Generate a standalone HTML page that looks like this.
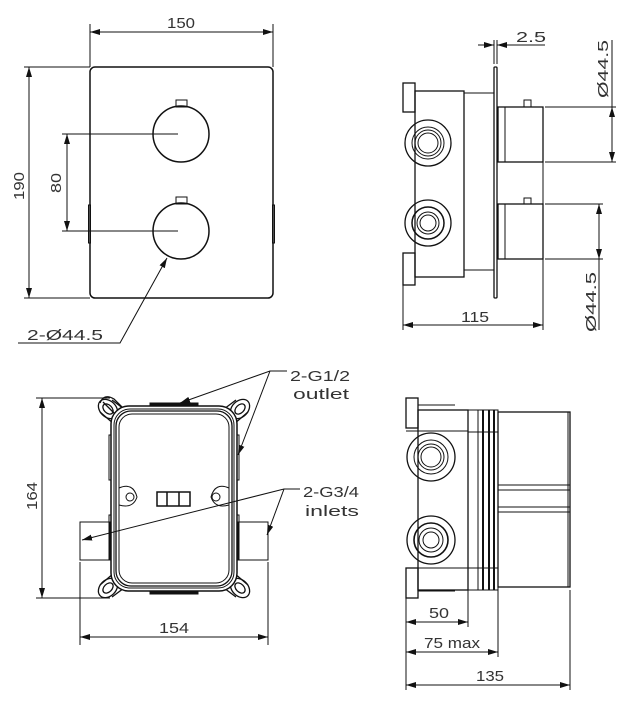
<!DOCTYPE html>
<html><head><meta charset="utf-8"><style>
html,body{margin:0;padding:0;background:#fff;}
svg{display:block}
text{font-family:"Liberation Sans",sans-serif;font-size:15px;fill:#333;}
</style></head><body>
<svg width="630" height="705" viewBox="0 0 630 705" xmlns="http://www.w3.org/2000/svg">
<defs>
<marker id="a" viewBox="0 0 10 6" refX="10" refY="3" markerWidth="10" markerHeight="6" orient="auto-start-reverse" markerUnits="userSpaceOnUse"><path d="M0,0 L10,3 L0,6 z" fill="#111"/></marker>
</defs>
<g fill="none" stroke="#111" stroke-width="1">
<!-- TOP LEFT front view -->
<rect x="90" y="67" width="183" height="231" rx="5" stroke-width="1.5"/>
<line x1="90" y1="24" x2="90" y2="67"/><line x1="273" y1="24" x2="273" y2="67"/>
<line x1="90" y1="32" x2="273" y2="32" marker-start="url(#a)" marker-end="url(#a)"/>
<line x1="24" y1="67" x2="90" y2="67"/><line x1="24" y1="298" x2="90" y2="298"/>
<line x1="29" y1="67" x2="29" y2="298" marker-start="url(#a)" marker-end="url(#a)"/>
<circle cx="181" cy="134" r="28" stroke-width="1.5"/>
<circle cx="181" cy="231" r="28" stroke-width="1.5"/>
<rect x="176" y="100" width="11" height="7"/>
<rect x="176" y="197" width="11" height="7"/>
<line x1="62" y1="134" x2="178" y2="134"/><line x1="62" y1="231" x2="178" y2="231"/>
<line x1="67" y1="134" x2="67" y2="231" marker-start="url(#a)" marker-end="url(#a)"/>
<rect x="88.5" y="205" width="2" height="38"/>
<rect x="272.5" y="205" width="2" height="38"/>
<path d="M18,343 L120,343 L167,258" marker-end="url(#a)"/>
<!-- TOP RIGHT side view -->
<rect x="494" y="67" width="3" height="231" rx="1" stroke-width="1.3"/>
<rect x="415" y="91" width="49" height="186" stroke-width="1.3"/>
<rect x="403" y="83" width="12" height="29" stroke-width="1.3"/>
<rect x="403" y="253" width="12" height="32" stroke-width="1.3"/>
<line x1="415" y1="91" x2="450" y2="91"/><line x1="415" y1="277" x2="450" y2="277"/>
<rect x="464" y="93" width="30" height="177"/>
<rect x="498" y="107" width="45" height="55" stroke-width="1.3"/>
<line x1="505" y1="107" x2="505" y2="162"/>
<rect x="524" y="100" width="7" height="7"/>
<rect x="498" y="204" width="45" height="55" stroke-width="1.3"/>
<line x1="505" y1="204" x2="505" y2="259"/>
<rect x="524" y="198" width="7" height="6"/>
<circle cx="428" cy="143" r="23" stroke-width="1.3"/><circle cx="428" cy="143" r="16"/><circle cx="428" cy="143" r="13"/><circle cx="428" cy="143" r="10"/>
<circle cx="428" cy="223" r="23" stroke-width="1.3"/><circle cx="428" cy="223" r="16" stroke-width="1.5"/><circle cx="428" cy="223" r="11"/><circle cx="428" cy="223" r="8"/>
<line x1="494" y1="40" x2="494" y2="64"/><line x1="497" y1="40" x2="497" y2="64"/>
<line x1="478" y1="45" x2="494" y2="45" marker-end="url(#a)"/>
<line x1="545" y1="45" x2="497" y2="45" marker-end="url(#a)"/>
<line x1="545" y1="107" x2="616" y2="107"/><line x1="545" y1="162" x2="616" y2="162"/>
<line x1="612" y1="40" x2="612" y2="162" /><line x1="612" y1="140" x2="612" y2="107" marker-end="url(#a)"/><line x1="612" y1="130" x2="612" y2="162" marker-end="url(#a)"/>
<line x1="545" y1="204" x2="603" y2="204"/><line x1="545" y1="259" x2="603" y2="259"/>
<line x1="599" y1="204" x2="599" y2="330"/><line x1="599" y1="240" x2="599" y2="204" marker-end="url(#a)"/><line x1="599" y1="230" x2="599" y2="259" marker-end="url(#a)"/>
<line x1="403" y1="285" x2="403" y2="330"/><line x1="543" y1="162" x2="543" y2="330"/>
<line x1="403" y1="325" x2="543" y2="325" marker-start="url(#a)" marker-end="url(#a)"/>
<!-- BOTTOM LEFT rear view -->
<g stroke-width="1.3">
<path d="M100,403 q4,-10 14,-4 l12,12 M103,402 l14,14"/>
<ellipse cx="108" cy="409" rx="11" ry="8" transform="rotate(45 108 409)"/>
<ellipse cx="108" cy="409" rx="6" ry="4" transform="rotate(45 108 409)"/>
<ellipse cx="240" cy="409" rx="11" ry="8" transform="rotate(-45 240 409)"/>
<ellipse cx="240" cy="409" rx="6" ry="4" transform="rotate(-45 240 409)"/>
<ellipse cx="108" cy="588" rx="11" ry="8" transform="rotate(-45 108 588)"/>
<ellipse cx="108" cy="588" rx="6" ry="4" transform="rotate(-45 108 588)"/>
<ellipse cx="240" cy="588" rx="11" ry="8" transform="rotate(45 240 588)"/>
<ellipse cx="240" cy="588" rx="6" ry="4" transform="rotate(45 240 588)"/>
<path d="M112,400 L128,412 M100,412 L114,424"/>
<path d="M236,400 L220,412 M248,412 L234,424"/>
<path d="M112,597 L128,585 M100,585 L114,573"/>
<path d="M236,597 L220,585 M248,585 L234,573"/>
</g>
<rect x="111" y="406" width="126" height="185" rx="18" fill="#fff" stroke-width="1.5"/>
<rect x="114" y="409" width="120" height="179" rx="16"/>
<rect x="116" y="411" width="116" height="175" rx="15" stroke-width="1.3"/>
<rect x="119" y="414" width="110" height="169" rx="13"/>
<rect x="150" y="403" width="48" height="3" fill="#111"/>
<rect x="150" y="591" width="48" height="3" fill="#111"/>
<rect x="109" y="435" width="2" height="45"/>
<rect x="237" y="435" width="2" height="45"/>
<rect x="109" y="515" width="2" height="45"/>
<rect x="237" y="515" width="2" height="45"/>
<rect x="80" y="522" width="30" height="38"/>
<rect x="238" y="522" width="30" height="38"/>
<circle cx="130" cy="497" r="4"/><path d="M119,488 q14,-6 18,9 q-4,12 -18,8"/>
<circle cx="216" cy="497" r="4"/><path d="M229,488 q-14,-6 -18,9 q4,12 18,8"/>
<rect x="157" y="492" width="33" height="14" stroke-width="1.5"/>
<line x1="167" y1="492" x2="167" y2="506" stroke-width="1.5"/><line x1="179" y1="492" x2="179" y2="506" stroke-width="1.5"/>
<line x1="36" y1="398" x2="110" y2="398"/><line x1="36" y1="598" x2="110" y2="598"/>
<line x1="42" y1="398" x2="42" y2="598" marker-start="url(#a)" marker-end="url(#a)"/>
<line x1="80" y1="562" x2="80" y2="645"/><line x1="268" y1="562" x2="268" y2="645"/>
<line x1="80" y1="637" x2="268" y2="637" marker-start="url(#a)" marker-end="url(#a)"/>
<path d="M287,371 L270,371 L180,403" marker-end="url(#a)"/>
<line x1="270" y1="371" x2="238" y2="455" marker-end="url(#a)"/>
<path d="M300,489 L284,489 L82,540" marker-end="url(#a)"/>
<line x1="284" y1="489" x2="267" y2="535" marker-end="url(#a)"/>
<!-- BOTTOM RIGHT side view -->
<rect x="406" y="398" width="12" height="30" stroke-width="1.3"/>
<rect x="406" y="568" width="12" height="30" stroke-width="1.3"/>
<line x1="418" y1="405" x2="455" y2="405"/><line x1="418" y1="591" x2="455" y2="591"/>
<rect x="418" y="410" width="50" height="180" stroke-width="1.3"/>
<line x1="406" y1="431" x2="468" y2="431"/><line x1="406" y1="568" x2="468" y2="568"/>
<rect x="468" y="410" width="30" height="180"/>
<line x1="478" y1="410" x2="478" y2="590"/>
<line x1="483" y1="410" x2="483" y2="590" stroke-width="2"/>
<line x1="489" y1="410" x2="489" y2="590" stroke-width="2"/>
<line x1="494" y1="410" x2="494" y2="590" stroke-width="2"/>
<line x1="468" y1="432" x2="498" y2="432"/><line x1="468" y1="568" x2="498" y2="568"/>
<rect x="498" y="412" width="72" height="175" stroke-width="1.3"/>
<line x1="568" y1="412" x2="568" y2="587"/>
<line x1="498" y1="485" x2="570" y2="485"/><line x1="498" y1="490" x2="570" y2="490"/>
<line x1="498" y1="507" x2="570" y2="507"/><line x1="498" y1="512" x2="570" y2="512"/>
<circle cx="431" cy="457" r="24" stroke-width="1.3"/><circle cx="431" cy="457" r="17"/><circle cx="431" cy="457" r="13"/><circle cx="431" cy="457" r="10"/>
<circle cx="431" cy="540" r="24" stroke-width="1.3"/><circle cx="431" cy="540" r="17" stroke-width="1.6"/><circle cx="431" cy="540" r="12"/><circle cx="431" cy="540" r="8"/>
<line x1="406" y1="598" x2="406" y2="690"/>
<line x1="468" y1="590" x2="468" y2="627"/>
<line x1="498" y1="590" x2="498" y2="657"/>
<line x1="570" y1="590" x2="570" y2="690"/>
<line x1="406" y1="622" x2="468" y2="622" marker-start="url(#a)" marker-end="url(#a)"/>
<line x1="406" y1="652" x2="498" y2="652" marker-start="url(#a)" marker-end="url(#a)"/>
<line x1="406" y1="685" x2="570" y2="685" marker-start="url(#a)" marker-end="url(#a)"/>
</g>
<!-- texts -->
<text x="167" y="28" textLength="28" lengthAdjust="spacingAndGlyphs">150</text>
<text transform="translate(24,200) rotate(-90)" textLength="28" lengthAdjust="spacingAndGlyphs">190</text>
<text transform="translate(61,193) rotate(-90)" textLength="20" lengthAdjust="spacingAndGlyphs">80</text>
<text x="27" y="340" textLength="76" lengthAdjust="spacingAndGlyphs">2-Ø44.5</text>
<text x="516" y="42" textLength="30" lengthAdjust="spacingAndGlyphs">2.5</text>
<text transform="translate(608,98) rotate(-90)" textLength="58" lengthAdjust="spacingAndGlyphs">Ø44.5</text>
<text transform="translate(596,332) rotate(-90)" textLength="60" lengthAdjust="spacingAndGlyphs">Ø44.5</text>
<text x="461" y="322" textLength="28" lengthAdjust="spacingAndGlyphs">115</text>
<text x="290" y="381" textLength="60" lengthAdjust="spacingAndGlyphs">2-G1/2</text>
<text x="293" y="399" textLength="56" lengthAdjust="spacingAndGlyphs">outlet</text>
<text x="303" y="497" textLength="56" lengthAdjust="spacingAndGlyphs">2-G3/4</text>
<text x="305" y="516" textLength="54" lengthAdjust="spacingAndGlyphs">inlets</text>
<text transform="translate(37,510) rotate(-90)" textLength="28" lengthAdjust="spacingAndGlyphs">164</text>
<text x="159" y="633" textLength="30" lengthAdjust="spacingAndGlyphs">154</text>
<text x="429" y="618" textLength="20" lengthAdjust="spacingAndGlyphs">50</text>
<text x="424" y="648" textLength="56" lengthAdjust="spacingAndGlyphs">75 max</text>
<text x="476" y="681" textLength="28" lengthAdjust="spacingAndGlyphs">135</text>
</svg>
</body></html>
